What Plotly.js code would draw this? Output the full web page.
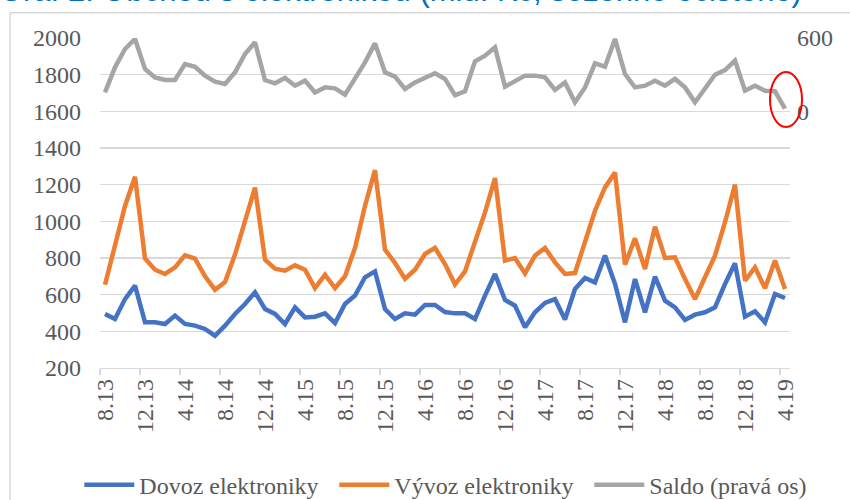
<!DOCTYPE html>
<html><head><meta charset="utf-8">
<script src="https://cdn.plot.ly/plotly-3.0.1.min.js"></script>
<style>html,body{margin:0;padding:0;background:#fff}#chart{width:850px;height:500px}</style>
</head><body><div id="chart"></div>
<script>
const months = ['8.13','9.13','10.13','11.13','12.13',
  '1.14','2.14','3.14','4.14','5.14','6.14','7.14','8.14','9.14','10.14','11.14','12.14',
  '1.15','2.15','3.15','4.15','5.15','6.15','7.15','8.15','9.15','10.15','11.15','12.15',
  '1.16','2.16','3.16','4.16','5.16','6.16','7.16','8.16','9.16','10.16','11.16','12.16',
  '1.17','2.17','3.17','4.17','5.17','6.17','7.17','8.17','9.17','10.17','11.17','12.17',
  '1.18','2.18','3.18','4.18','5.18','6.18','7.18','8.18','9.18','10.18','11.18','12.18',
  '1.19','2.19','3.19','4.19'];
const dovoz = [495,467,576,649,449,449,440,486,440,431,
  413,376,431,495,549,613,522,495,440,531,
  476,480,498,445,549,595,695,727,522,467,
  498,491,544,544,505,498,498,467,595,713,
  571,540,422,504,555,576,464,631,691,667,
  813,658,449,685,504,698,567,531,462,491,
  504,531,658,771,480,509,449,604,582];
const vyvoz = [654,864,1084,1243,797,736,713,749,815,797,
  700,627,669,819,1001,1184,791,742,731,760,
  736,636,709,636,700,855,1084,1279,846,773,
  687,736,822,855,767,655,727,885,1049,1236,
  786,800,716,813,855,776,713,718,895,1058,
  1185,1267,764,907,740,971,800,804,685,576,
  695,813,995,1200,676,749,635,786,631];
const saldo = [155,360,510,592,346,278,256,256,387,365,
  292,243,224,319,469,565,256,229,273,210,
  251,155,196,188,136,265,401,556,319,284,
  183,237,278,311,265,132,164,409,455,524,
  202,245,292,292,278,175,237,74,196,393,
  365,592,305,196,210,251,210,265,196,74,
  183,300,338,415,169,210,169,164,22];
const seriesNames = ['Dovoz elektroniky','Vývoz elektroniky','Saldo (pravá os)'];
const seriesColors = ['#4472C4','#ED7D31','#A5A5A5'];
const leftTicks = [200,400,600,800,1000,1200,1400,1600,1800,2000];
const rightTicks = [0,600];
const titleText = 'Graf 2: Obchod s elektronikou (mld. Kč, sezónně očištěno)';

const serif = 'Liberation Serif, Times New Roman, serif';
const grey = '#595959';

const traces = [
  {x: months, y: dovoz, name: seriesNames[0], type: 'scatter', mode: 'lines',
   line: {color: seriesColors[0], width: 4.5}},
  {x: months, y: vyvoz, name: seriesNames[1], type: 'scatter', mode: 'lines',
   line: {color: seriesColors[1], width: 4.5}},
  {x: months, y: saldo, name: seriesNames[2], type: 'scatter', mode: 'lines', yaxis: 'y2',
   line: {color: seriesColors[2], width: 4.5}}
];

const layout = {
  width: 850, height: 500,
  margin: {l: 100, r: 60, t: 38, b: 132, autoexpand: false},
  paper_bgcolor: '#fff', plot_bgcolor: '#fff',
  showlegend: true,
  xaxis: {
    type: 'category', range: [-0.5, 68.5], automargin: false,
    tickmode: 'linear', tick0: 0, dtick: 4, tickson: 'boundaries',
    ticks: 'outside', ticklen: 6, tickcolor: '#D9D9D9', tickwidth: 1.3,
    showline: true, linecolor: '#D9D9D9', linewidth: 1.3,
    showgrid: false, zeroline: false, tickangle: -90,
    tickfont: {family: serif, size: 24, color: grey}
  },
  yaxis: {
    range: [200, 2000], tickvals: leftTicks, automargin: false,
    showgrid: true, gridcolor: '#D9D9D9', gridwidth: 1.3,
    zeroline: false, showline: false, ticks: '',
    ticklabelstandoff: 18,
    tickfont: {family: serif, size: 24, color: grey}
  },
  yaxis2: {
    overlaying: 'y', side: 'right', range: [-2100, 600], tickvals: rightTicks, automargin: false,
    showgrid: false, zeroline: false, showline: false, ticks: '',
    ticklabelstandoff: 6,
    tickfont: {family: serif, size: 24, color: grey}
  },
  legend: {
    orientation: 'h', x: -0.03, xanchor: 'left', y: -0.355, yanchor: 'middle',
    font: {family: serif, size: 24, color: grey}, itemwidth: 50,
    entrywidth: 190, entrywidthmode: 'pixels',
    bgcolor: 'rgba(0,0,0,0)'
  },
  annotations: [{
    text: titleText, xref: 'paper', yref: 'paper', x: 1.02, xanchor: 'right',
    y: 1, yanchor: 'bottom', yshift: 28, showarrow: false,
    font: {family: 'Liberation Sans, Arial, sans-serif', size: 31, color: '#0070C0'}
  }],
  shapes: [
    {type: 'rect', xref: 'paper', yref: 'paper', x0: -0.1304, x1: 2, y0: -2, y1: 1.0767,
     line: {color: '#D9D9D9', width: 1.5}, fillcolor: 'rgba(0,0,0,0)', layer: 'below'},
    {type: 'circle', xref: 'paper', yref: 'paper', x0: 0.971, x1: 1.0174, y0: 0.730, y1: 0.897,
     line: {color: '#FF0000', width: 2}, fillcolor: 'rgba(0,0,0,0)'}
  ]
};

Plotly.newPlot('chart', traces, layout, {displayModeBar: false, staticPlot: true});
</script></body></html>
